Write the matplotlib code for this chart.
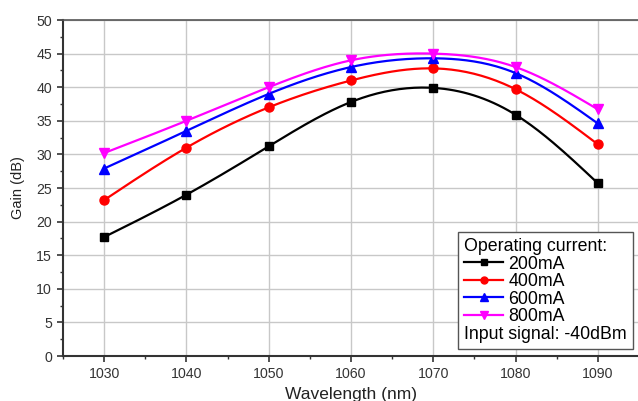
import numpy as np
import matplotlib
matplotlib.use("Agg")
import matplotlib.pyplot as plt
from matplotlib.offsetbox import TextArea

plt.rcParams['font.family'] = ['Liberation Sans', 'DejaVu Sans']

wavelength = [1030, 1040, 1050, 1060, 1070, 1080, 1090]
gain_200 = [17.7, 24.0, 31.2, 37.8, 39.9, 35.9, 25.7]
gain_400 = [23.2, 31.0, 37.0, 41.0, 42.8, 39.7, 31.5]
gain_600 = [27.9, 33.5, 39.0, 43.0, 44.3, 42.1, 34.6]
gain_800 = [30.2, 35.0, 40.0, 44.0, 45.0, 43.0, 36.7]
labels = ["200mA", "400mA", "600mA", "800mA"]
colors = ["black", "red", "blue", "#ff00ff"]
markers = ["s", "o", "^", "v"]
msizes = [6, 6.5, 7, 7]


def smooth(x, y, n=200):
    # natural cubic spline, only used to draw the connecting line
    x = np.asarray(x, float)
    y = np.asarray(y, float)
    k = len(x)
    h = np.diff(x)
    A = np.zeros((k, k))
    b = np.zeros(k)
    A[0, 0] = 1
    A[-1, -1] = 1
    for i in range(1, k - 1):
        A[i, i - 1] = h[i - 1]
        A[i, i] = 2 * (h[i - 1] + h[i])
        A[i, i + 1] = h[i]
        b[i] = 6 * ((y[i + 1] - y[i]) / h[i] - (y[i] - y[i - 1]) / h[i - 1])
    M = np.linalg.solve(A, b)
    xs = np.linspace(x[0], x[-1], n)
    idx = np.clip(np.searchsorted(x, xs) - 1, 0, k - 2)
    x0, x1 = x[idx], x[idx + 1]
    hh = x1 - x0
    t1 = x1 - xs
    t0 = xs - x0
    ys = (M[idx] * t1**3 + M[idx + 1] * t0**3) / (6 * hh) \
        + (y[idx] / hh - M[idx] * hh / 6) * t1 \
        + (y[idx + 1] / hh - M[idx + 1] * hh / 6) * t0
    return xs, ys


fig = plt.figure(figsize=(6.38, 4.01), dpi=100)
ax = fig.add_axes([63 / 638, 1 - 356 / 401, 576 / 638, 336 / 401])

handles = []
for g, lab, c, m, ms in zip([gain_200, gain_400, gain_600, gain_800], labels, colors, markers, msizes):
    xs, ys = smooth(wavelength, g)
    ax.plot(xs, ys, color=c, lw=1.6, zorder=3)
    ax.plot(wavelength, g, ls='none', marker=m, color=c, ms=ms, zorder=4)
    h, = ax.plot([], [], color=c, lw=1.6, marker=m, ms=ms - 1.5)
    handles.append(h)

ax.set_xlim(1025, 1095)
ax.set_ylim(0, 50)
ax.set_xticks(wavelength)
ax.set_xticks(np.arange(1025, 1096, 5), minor=True)
ax.set_yticks(np.arange(0, 51, 5))
ax.set_yticks(np.arange(0, 51, 2.5), minor=True)
ax.grid(True, which='major', color='#c8c8c8', lw=1)
ax.set_axisbelow(True)

for s in ['left', 'bottom']:
    ax.spines[s].set_linewidth(1.5)
    ax.spines[s].set_color('#333333')
ax.spines['top'].set_linewidth(1.2)
ax.spines['top'].set_color('#555555')
ax.spines['right'].set_visible(False)

ax.tick_params(which='major', direction='out', length=4, width=1.2, color='#333333',
               labelsize=10.2, labelcolor='#333333', pad=4)
ax.tick_params(which='minor', direction='out', length=2.5, width=1, color='#333333')

ax.set_xlabel("Wavelength (nm)", fontsize=12.5, color='#222222', labelpad=4)
ax.set_ylabel("Gain (dB)", fontsize=10.5, color='#222222', labelpad=8)

leg = ax.legend(handles, labels, title="Operating current:", alignment='left',
                loc='lower right', bbox_to_anchor=((633 - 63) / 576, 7 / 336),
                borderaxespad=0, fontsize=12.8, title_fontsize=12.8,
                handlelength=2.2, handletextpad=0.3, labelspacing=0.03,
                fancybox=False, framealpha=1, edgecolor='#555555',
                borderpad=0.35)
leg.get_frame().set_linewidth(1.0)
extra = TextArea("Input signal: -40dBm", textprops=dict(fontsize=12.8, color='black'))
leg._legend_box._children.append(extra)
extra.set_figure(fig)

fig.savefig("out.png", dpi=100)
